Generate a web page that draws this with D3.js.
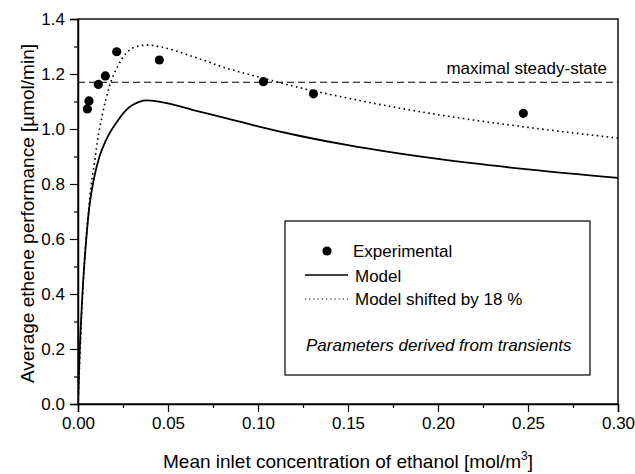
<!DOCTYPE html>
<html>
<head>
<meta charset="utf-8">
<script src="https://cdn.jsdelivr.net/npm/d3@7"></script>
<style>
  html, body { margin: 0; padding: 0; background: #fff; }
  svg { display: block; font-family: "Liberation Sans", Arial, sans-serif; }
</style>
</head>
<body>
<svg id="chart" width="635" height="474"></svg>
<script>
// Measured ethene performance vs. mean inlet ethanol concentration
const expConc = [0.0052, 0.0061, 0.0113, 0.0152, 0.0215, 0.0452, 0.1030, 0.1308, 0.2474];
const expPerf = [1.073, 1.102, 1.162, 1.193, 1.281, 1.251, 1.172, 1.128, 1.057];

// Model curve
const modelConc = [0, 0.0007, 0.0026, 0.0044, 0.0063, 0.0091, 0.0119, 0.0156, 0.0211, 0.0267, 0.0340, 0.0380, 0.0456, 0.0640, 0.0826, 0.1011, 0.1196, 0.1500, 0.2000, 0.2500, 0.3000];
const modelPerf = [0, 0.148, 0.415, 0.584, 0.717, 0.827, 0.899, 0.960, 1.021, 1.069, 1.099, 1.104, 1.099, 1.069, 1.039, 1.008, 0.980, 0.941, 0.891, 0.853, 0.822];

// Model shifted by 18 %
const shiftConc = [0, 0.0015, 0.0035, 0.0054, 0.0072, 0.0091, 0.0109, 0.0137, 0.0174, 0.0220, 0.0267, 0.0340, 0.0390, 0.0456, 0.0640, 0.0826, 0.1011, 0.1196, 0.1500, 0.2000, 0.2500, 0.3000];
const shiftPerf = [0, 0.240, 0.512, 0.669, 0.790, 0.875, 0.960, 1.057, 1.154, 1.227, 1.275, 1.302, 1.305, 1.299, 1.263, 1.221, 1.188, 1.156, 1.112, 1.052, 1.006, 0.967];

// Maximal steady-state level
const steadyStateLevel = 1.17;

const xTicks = [0, 0.05, 0.10, 0.15, 0.20, 0.25, 0.30];
const yTicks = [0, 0.2, 0.4, 0.6, 0.8, 1.0, 1.2, 1.4];

const svg = d3.select("#chart");
const m = { left: 78, right: 618, top: 19, bottom: 404 };
const FONT = "Liberation Sans, Arial, sans-serif";

const x = d3.scaleLinear().domain([0, 0.30]).range([m.left, m.right]);
const y = d3.scaleLinear().domain([0, 1.4]).range([m.bottom, m.top]);

// clip curves to the frame
svg.append("clipPath").attr("id", "clip")
  .append("rect").attr("x", m.left).attr("y", m.top)
  .attr("width", m.right - m.left).attr("height", m.bottom - m.top);

// frame
svg.append("rect")
  .attr("x", m.left).attr("y", m.top)
  .attr("width", m.right - m.left).attr("height", m.bottom - m.top)
  .attr("fill", "none").attr("stroke", "#000").attr("stroke-width", 1.4);

// x axis (major + minor)
const xAxis = d3.axisBottom(x).tickValues(xTicks).tickFormat(d3.format(".2f"))
  .tickSize(8).tickPadding(5);
const gx = svg.append("g").attr("transform", `translate(0,${m.bottom})`).call(xAxis);
gx.select(".domain").attr("stroke-width", 1.5);
gx.selectAll(".tick line").attr("stroke-width", 1.2);
gx.selectAll(".tick text").attr("font-size", 17).attr("font-family", FONT).attr("fill", "#000");
const xMinor = d3.axisBottom(x).tickValues(d3.range(0.025, 0.30, 0.05)).tickSize(4).tickFormat("");
svg.append("g").attr("transform", `translate(0,${m.bottom})`).call(xMinor)
  .call(g => g.select(".domain").remove())
  .selectAll("line").attr("stroke-width", 1.2);

// y axis (major + minor)
const yAxis = d3.axisLeft(y).tickValues(yTicks).tickFormat(d3.format(".1f"))
  .tickSize(8).tickPadding(5);
const gy = svg.append("g").attr("transform", `translate(${m.left},0)`).call(yAxis);
gy.select(".domain").attr("stroke-width", 1.5);
gy.selectAll(".tick line").attr("stroke-width", 1.2);
gy.selectAll(".tick text").attr("font-size", 17).attr("font-family", FONT).attr("fill", "#000");
const yMinor = d3.axisLeft(y).tickValues(d3.range(0.1, 1.4, 0.2)).tickSize(4).tickFormat("");
svg.append("g").attr("transform", `translate(${m.left},0)`).call(yMinor)
  .call(g => g.select(".domain").remove())
  .selectAll("line").attr("stroke-width", 1.2);

const curves = svg.append("g").attr("clip-path", "url(#clip)");

// steady-state dashed level
curves.append("line")
  .attr("x1", x(0)).attr("x2", x(0.30))
  .attr("y1", y(steadyStateLevel)).attr("y2", y(steadyStateLevel))
  .attr("stroke", "#000").attr("stroke-width", 1)
  .attr("stroke-dasharray", "7,4");

const line = d3.line().x(d => x(d[0])).y(d => y(d[1])).curve(d3.curveMonotoneX);

curves.append("path")
  .datum(modelConc.map((c, i) => [c, modelPerf[i]]))
  .attr("d", line).attr("fill", "none")
  .attr("stroke", "#000").attr("stroke-width", 1.8);

curves.append("path")
  .datum(shiftConc.map((c, i) => [c, shiftPerf[i]]))
  .attr("d", line).attr("fill", "none")
  .attr("stroke", "#000").attr("stroke-width", 1.6)
  .attr("stroke-dasharray", "1.6,3.4");

svg.append("g").selectAll("circle")
  .data(expConc.map((c, i) => [c, expPerf[i]]))
  .join("circle")
  .attr("cx", d => x(d[0])).attr("cy", d => y(d[1]))
  .attr("r", 4.6).attr("fill", "#000");

// label for the steady-state level
svg.append("text")
  .attr("x", 607).attr("y", y(steadyStateLevel) - 8)
  .attr("text-anchor", "end").attr("font-size", 17)
  .text("maximal steady-state");

// legend
const lg = svg.append("g");
lg.append("rect").attr("x", 285).attr("y", 221).attr("width", 305).attr("height", 154)
  .attr("fill", "#fff").attr("stroke", "#000").attr("stroke-width", 1.2);
lg.append("circle").attr("cx", 327).attr("cy", 251).attr("r", 4.6).attr("fill", "#000");
lg.append("text").attr("x", 353).attr("y", 257).attr("font-size", 17).text("Experimental");
lg.append("line").attr("x1", 305).attr("x2", 348).attr("y1", 275).attr("y2", 275)
  .attr("stroke", "#000").attr("stroke-width", 1.6);
lg.append("text").attr("x", 355).attr("y", 282).attr("font-size", 17).text("Model");
lg.append("line").attr("x1", 305).attr("x2", 348).attr("y1", 299).attr("y2", 299)
  .attr("stroke", "#000").attr("stroke-width", 1.2).attr("stroke-dasharray", "1.2,3");
lg.append("text").attr("x", 355).attr("y", 305).attr("font-size", 17).text("Model shifted by 18 %");
lg.append("text").attr("x", 306).attr("y", 351).attr("font-size", 17)
  .attr("font-style", "italic").text("Parameters derived from transients");

// axis titles
const xt = svg.append("text").attr("x", (m.left + m.right) / 2).attr("y", 468)
  .attr("text-anchor", "middle").attr("font-size", 19);
xt.append("tspan").text("Mean inlet concentration of ethanol [mol/m");
xt.append("tspan").attr("dy", -8).attr("font-size", 12).text("3");
xt.append("tspan").attr("dy", 8).text("]");

svg.append("text")
  .attr("transform", `translate(34,${(m.top + m.bottom) / 2 + 2}) rotate(-90)`)
  .attr("text-anchor", "middle").attr("font-size", 19)
  .text("Average ethene performance [µmol/min]");
</script>
</body>
</html>
